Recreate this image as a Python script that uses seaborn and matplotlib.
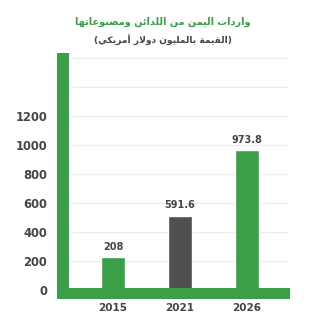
import matplotlib
matplotlib.use("Agg")
import matplotlib.pyplot as plt
from matplotlib.patches import Rectangle
import seaborn as sns

# ---- data ----
years = ["2015", "2021", "2026"]
bar_heights = [225, 510, 965]          # heights as drawn in the picture
value_labels = ["208", "591.6", "973.8"]
y_ticks = [0, 200, 400, 600, 800, 1000, 1200]
grid_levels = [200, 400, 600, 800, 1000, 1200, 1400, 1600]
title_text = "واردات اليمن من اللدائن ومصنوعاتها"
subtitle_text = "(القيمة بالمليون دولار أمريكي)"

GREEN = "#3a9f48"
DARK = "#505050"
TXT = "#454545"

# ---- minimal Arabic shaping (matplotlib has no complex text layout) ----
FORMS = {
    "ا": ("\uFE8D", "\uFE8E", None, None),
    "أ": ("\uFE83", "\uFE84", None, None),
    "ب": ("\uFE8F", "\uFE90", "\uFE91", "\uFE92"),
    "ة": ("\uFE93", "\uFE94", None, None),
    "ت": ("\uFE95", "\uFE96", "\uFE97", "\uFE98"),
    "د": ("\uFEA9", "\uFEAA", None, None),
    "ر": ("\uFEAD", "\uFEAE", None, None),
    "ص": ("\uFEB9", "\uFEBA", "\uFEBB", "\uFEBC"),
    "ع": ("\uFEC9", "\uFECA", "\uFECB", "\uFECC"),
    "ق": ("\uFED5", "\uFED6", "\uFED7", "\uFED8"),
    "ك": ("\uFED9", "\uFEDA", "\uFEDB", "\uFEDC"),
    "ل": ("\uFEDD", "\uFEDE", "\uFEDF", "\uFEE0"),
    "م": ("\uFEE1", "\uFEE2", "\uFEE3", "\uFEE4"),
    "ن": ("\uFEE5", "\uFEE6", "\uFEE7", "\uFEE8"),
    "ه": ("\uFEE9", "\uFEEA", "\uFEEB", "\uFEEC"),
    "و": ("\uFEED", "\uFEEE", None, None),
    "ي": ("\uFEF1", "\uFEF2", "\uFEF3", "\uFEF4"),
    "ئ": ("\uFE89", "\uFE8A", "\uFE8B", "\uFE8C"),
}
LAM_ALEF = {"ا": ("\uFEFB", "\uFEFC"), "أ": ("\uFEF7", "\uFEF8")}


def dual(c):
    return c in FORMS and FORMS[c][2] is not None


def shape(text):
    chars = list(text)
    out = []
    i = 0
    n = len(chars)
    while i < n:
        c = chars[i]
        if c not in FORMS:
            out.append(c)
            i += 1
            continue
        prev = chars[i - 1] if i > 0 else ""
        joins_prev = dual(prev)
        if c == "ل" and i + 1 < n and chars[i + 1] in LAM_ALEF:
            iso, fin = LAM_ALEF[chars[i + 1]]
            out.append(fin if joins_prev else iso)
            i += 2
            continue
        nxt = chars[i + 1] if i + 1 < n else ""
        joins_next = dual(c) and nxt in FORMS
        iso, fin, ini, med = FORMS[c]
        if joins_prev and joins_next:
            out.append(med)
        elif joins_prev:
            out.append(fin)
        elif joins_next:
            out.append(ini)
        else:
            out.append(iso)
        i += 1
    vis = "".join(reversed(out))
    return vis.translate(str.maketrans("()", ")("))


# ---- figure ----
sns.set_theme(style="white")
plt.rcParams["font.family"] = ["DejaVu Sans"]

W = H = 325
fig = plt.figure(figsize=(3.25, 3.25), dpi=100)
fig.patch.set_facecolor("white")

# pixel geometry of the plotting region
L, R, T, B = 50, 300, 45, 299
ax = fig.add_axes([L / W, (H - B) / H, (R - L) / W, (B - T) / H])

x0, dx = 113, 67          # px of first category, px per category
y0, dy = 290, 0.145       # px of zero, px per unit

sns.barplot(x=years, y=bar_heights, hue=years, palette=[GREEN, DARK, GREEN],
            width=0.36, legend=False, ax=ax, saturation=1, zorder=2)

ax.set_xlim((L - x0) / dx, (R - x0) / dx)
ax.set_ylim((y0 - B) / dy, (y0 - T) / dy)

# grid lines
ax.hlines(grid_levels, (72 - x0) / dx, (288 - x0) / dx, color="#e4f1e6", lw=0.9, zorder=0)

for cont, lab in zip(ax.containers, value_labels):
    ax.bar_label(cont, labels=[lab], padding=4, fontsize=7, fontweight="bold", color=TXT)

# thick green frame (left post and base)
ylo = (y0 - B) / dy
left_x0 = (57.3 - x0) / dx
left_x1 = (69 - x0) / dx
ax.add_patch(Rectangle((left_x0, ylo), left_x1 - left_x0, (y0 - 53) / dy - ylo,
                       color=GREEN, lw=0, zorder=3))
ax.add_patch(Rectangle((left_x0, ylo), (290 - x0) / dx - left_x0, (y0 - 287.7) / dy - ylo,
                       color=GREEN, lw=0, zorder=3))

ax.set_yticks(y_ticks)
ax.set_yticklabels([str(v) for v in y_ticks], fontsize=8.3, fontweight="bold", color=TXT)
ax.tick_params(axis="y", length=0, pad=2)
ax.tick_params(axis="x", length=0, pad=3, labelsize=7.5, labelcolor=TXT)
for t in ax.get_xticklabels():
    t.set_fontweight("bold")
ax.set_xlabel("")
ax.set_ylabel("")
for s in ax.spines.values():
    s.set_visible(False)
ax.set_facecolor("none")

fig.text(163 / W, 1 - 22 / H, shape(title_text), ha="center", va="center",
         fontsize=7, fontweight="bold", color=GREEN)
fig.text(163 / W, 1 - 40 / H, shape(subtitle_text), ha="center", va="center",
         fontsize=6.6, fontweight="bold", color=TXT)

fig.savefig("out.png", dpi=100, facecolor="white")
